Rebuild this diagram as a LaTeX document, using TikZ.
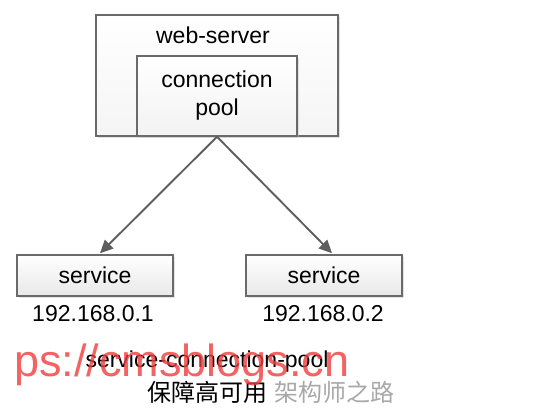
\documentclass[tikz,border=0pt]{standalone}
\usepackage{fontspec}
\setmainfont{Liberation Sans}
\newfontfamily\cjk{Noto Sans CJK SC}
\usetikzlibrary{arrows.meta,shadows}
\definecolor{boxline}{HTML}{6A6A6A}
\definecolor{arrowc}{HTML}{5E5E5E}
\definecolor{wmred}{HTML}{F03C3C}
\definecolor{wmgray}{HTML}{A8A8A8}
\tikzset{
  box/.style={draw=boxline, line width=1.5pt, rectangle, inner sep=0pt,
    top color=white, bottom color=gray!18,
    drop shadow={shadow xshift=2pt, shadow yshift=-2pt, fill=gray!45}},
  plain/.style={inner sep=0pt, font=\fontsize{23}{28}\selectfont},
  conn/.style={draw=arrowc, line width=1.9pt, -{Triangle[length=13pt,width=12pt]}}
}
\begin{document}
\begin{tikzpicture}[x=1pt,y=-1pt]
\useasboundingbox[fill=white] (0,0) rectangle (540,412);
% web server container
\node[box, minimum width=242pt, minimum height=121pt, top color=white, bottom color=gray!8] (web) at (217,75.5) {};
\node[plain] (webtitle) at (213,35) {web-server};
\node[box, minimum width=160pt, minimum height=80pt, top color=white, bottom color=gray!10,
  align=center, font=\fontsize{23}{28}\selectfont] (pool) at (217,96) {connection\\pool};
% services
\node[box, minimum width=156pt, minimum height=41pt, font=\fontsize{23}{28}\selectfont] (svc1) at (95,275.5) {service};
\node[box, minimum width=156pt, minimum height=41pt, font=\fontsize{23}{28}\selectfont] (svc2) at (324,275.5) {service};
\node[plain] (ip1) at (93,314) {192.168.0.1};
\node[plain] (ip2) at (323,314) {192.168.0.2};
% connectors
\draw[conn] (pool.south) -- ([xshift=5pt,yshift=1pt]svc1.north);
\draw[conn] (pool.south) -- ([xshift=8pt,yshift=1pt]svc2.north);
% watermarks and caption
\node[inner sep=0pt, text=wmgray, font=\cjk\fontsize{24}{28}\selectfont] (wm2) at (334,392) {架构师之路};
\node[plain] (cap1) at (207,362) {service-connection-pool};
\node[inner sep=0pt, font=\cjk\fontsize{24}{28}\selectfont] (cap2) at (207,392) {保障高可用};
\node[inner sep=0pt, anchor=base west, text=wmred, opacity=0.8, font=\fontsize{45}{50}\selectfont] (wm1) at (14,376) {ps://cmsblogs.cn};
\end{tikzpicture}
\end{document}
